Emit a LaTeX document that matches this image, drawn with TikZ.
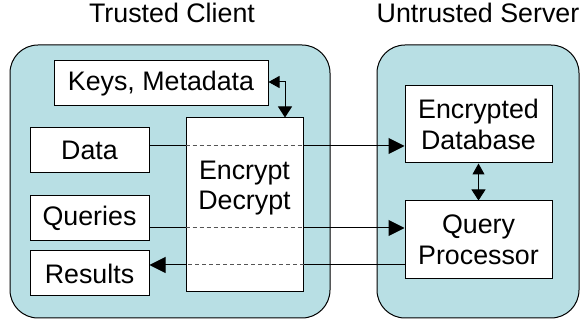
\documentclass[tikz,border=0pt]{standalone}
\usepackage{fontspec}
\setmainfont{Liberation Sans}
\usetikzlibrary{arrows.meta}
\definecolor{teal1}{RGB}{184,223,228}
\definecolor{dashgray}{RGB}{85,85,85}
\begin{document}
\begin{tikzpicture}[x=1pt,y=-1pt,
  every node/.style={font=\fontsize{26.8}{30.5}\selectfont},
  container/.style={draw=black, line width=1pt, fill=teal1, rounded corners=28pt},
  box/.style={draw=black, line width=1pt, fill=white, inner sep=0pt, align=center},
  conn/.style={line width=1pt},
  dashpart/.style={line width=1pt, draw=dashgray, dash pattern=on 4pt off 3pt},
  bigtip/.style={-{Triangle[length=16pt,width=16pt]}},
  smalltips/.style={{Triangle[length=11pt,width=12pt]}-{Triangle[length=11pt,width=14pt]}}
]
\useasboundingbox (0,0) rectangle (582,323);
% containers
\path[container] (10,45) rectangle (330,318);
\path[container] (377,45) rectangle (579,318);
% titles
\node[anchor=base] (t1) at (172,23) {Trusted Client};
\node[anchor=base] (t2) at (478,23) {Untrusted Server};
% client boxes
\node[box, minimum width=214pt, minimum height=45pt] (keys) at (161,83.5) {Keys, Metadata};
\node[box, minimum width=119pt, minimum height=45pt] (data) at (89.5,150.5) {Data};
\node[box, minimum width=119pt, minimum height=45pt] (queries) at (89.5,218.5) {Queries};
\node[box, minimum width=119pt, minimum height=45pt] (results) at (89.5,273.5) {Results};
\node[box, minimum width=117pt, minimum height=174pt] (enc) at (244.5,205) {};
\node[align=center, inner sep=0pt] (enctext) at (244.5,188) {Encrypt\\Decrypt};
% server boxes
\node[box, minimum width=147pt, minimum height=77pt] (db) at (478.5,124.5) {Encrypted\\Database};
\node[box, minimum width=147pt, minimum height=78pt] (qp) at (478.5,240) {Query\\Processor};
% coordinates on the encryption box
\coordinate (dataIn) at ([yshift=4.5pt]data.east);
\coordinate (qIn) at ([yshift=-9.5pt]queries.east);
\coordinate (rOut) at ([yshift=8.5pt]results.east);
% data line
\draw[conn] (dataIn) -- (dataIn -| enc.west);
\draw[dashpart] (dataIn -| enc.west) -- (dataIn -| enc.east);
\draw[conn, bigtip] (dataIn -| enc.east) -- (dataIn -| db.west);
% queries line
\draw[conn] (qIn) -- (qIn -| enc.west);
\draw[dashpart] (qIn -| enc.west) -- (qIn -| enc.east);
\draw[conn, bigtip] (qIn -| enc.east) -- (qIn -| qp.west);
% results line
\draw[conn] (rOut -| qp.west) -- (rOut -| enc.east);
\draw[dashpart] (rOut -| enc.east) -- (rOut -| enc.west);
\draw[conn, bigtip] (rOut -| enc.west) -- (rOut);
% keys <-> encrypt
\coordinate (kTop) at ([xshift=40.5pt]enc.north);
\draw[conn, smalltips] ([yshift=1.5pt]keys.east) -| (kTop);
% db <-> qp
\draw[conn, smalltips] (db.south) -- (qp.north);
\end{tikzpicture}
\end{document}
